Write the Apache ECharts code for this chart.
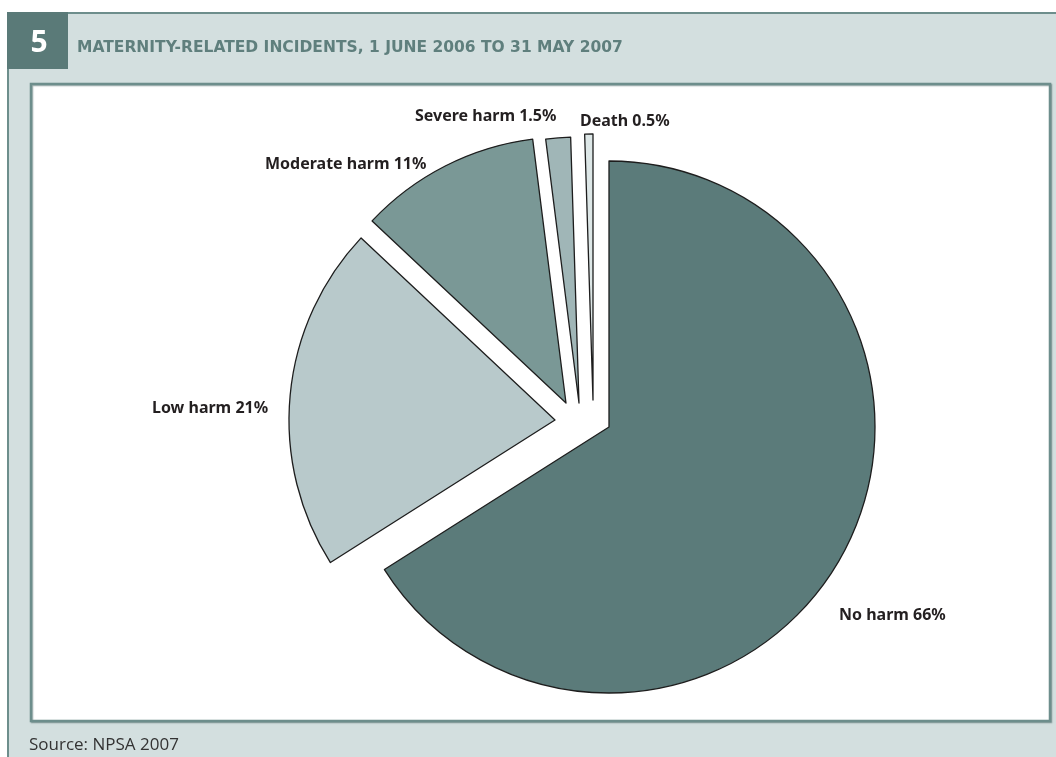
<!DOCTYPE html>
<html>
<head>
<meta charset="utf-8">
<title>Maternity-related incidents</title>
<script src="https://cdn.jsdelivr.net/npm/echarts@6/dist/echarts.min.js"></script>
<style>
  html, body { margin: 0; padding: 0; background: #ffffff; }
  #chart { width: 1056px; height: 757px; }
</style>
</head>
<body>
<div id="chart"></div>
<script>
// Incident outcomes, share of reported maternity incidents (%)
const categories = ['No harm', 'Low harm', 'Moderate harm', 'Severe harm', 'Death'];
const shares = [66, 21, 11, 1.5, 0.5];
const sliceColors = ['#5b7b7a', '#b8c9cb', '#7a9896', '#a0b6b7', '#dde7e7'];

const figureNumber = '5';
const titleText = 'MATERNITY-RELATED INCIDENTS, 1 JUNE 2006 TO 31 MAY 2007';
const sourceText = 'Source: NPSA 2007';

// Each slice is drawn by its own pie series so that it can be pulled
// away from the middle by its own amount; [cx, cy] per slice.
const sliceCentres = [[609, 427], [555, 420], [566, 403], [579, 403], [593, 400]];
// Label anchor (left edge, vertical middle) per slice.
const labelAnchors = [[839, 615], [152, 408], [265, 164], [415, 116], [580, 121]];
const pieRadius = 266;

const labelFont = '"Noto Sans", "DejaVu Sans", sans-serif';

function sliceSeries(k) {
  return {
    type: 'pie',
    center: sliceCentres[k],
    radius: pieRadius,
    startAngle: 90,
    clockwise: true,
    animation: false,
    silent: true,
    avoidLabelOverlap: false,
    emphasis: { disabled: true },
    z: 5,
    data: categories.map((name, i) => {
      const own = i === k;
      return {
        name: name,
        value: shares[i],
        itemStyle: own
          ? { color: sliceColors[i], borderColor: '#1d1d1d', borderWidth: 1.3 }
          : { color: 'rgba(0,0,0,0)', borderWidth: 0 },
        label: { show: own },
        labelLine: { show: false }
      };
    }),
    label: {
      position: 'outside',
      formatter: '{b} {c}%',
      color: '#231f20',
      fontFamily: labelFont,
      fontWeight: 'bold',
      fontSize: 16
    },
    labelLayout: function () {
      return {
        x: labelAnchors[k][0],
        y: labelAnchors[k][1],
        align: 'left',
        verticalAlign: 'middle'
      };
    }
  };
}

const chart = echarts.init(document.getElementById('chart'), null, { renderer: 'canvas' });

chart.setOption({
  backgroundColor: '#ffffff',
  animation: false,
  graphic: [
    // grey-green panel with rule on top and left
    { type: 'rect', z: 0, shape: { x: 8, y: 13, width: 1060, height: 760 },
      style: { fill: '#d3dfdf', stroke: '#6d8e8c', lineWidth: 2 } },
    // figure number box
    { type: 'rect', z: 1, shape: { x: 7, y: 12, width: 61, height: 57 },
      style: { fill: '#5a7a78' } },
    { type: 'text', z: 2, x: 39, y: 43,
      style: { text: figureNumber, fill: '#ffffff', font: 'bold 30px "Noto Sans", sans-serif',
        textAlign: 'center', textVerticalAlign: 'middle' } },
    { type: 'text', z: 2, x: 77, y: 48,
      style: { text: titleText, fill: '#5f7f7d', font: 'bold 15.5px "DejaVu Sans", sans-serif',
        textAlign: 'left', textVerticalAlign: 'middle' } },
    // white plot box
    { type: 'rect', z: 1, shape: { x: 31, y: 84, width: 1019, height: 637 },
      style: { fill: '#ffffff', stroke: '#6d8e8c', lineWidth: 2.5,
        shadowColor: 'rgba(60,90,88,0.45)', shadowOffsetX: 1, shadowOffsetY: 1, shadowBlur: 1 } },
    { type: 'text', z: 2, x: 29, y: 745,
      style: { text: sourceText, fill: '#333333', font: '17px "Open Sans", "Noto Sans", sans-serif',
        textAlign: 'left', textVerticalAlign: 'middle' } }
  ],
  series: categories.map((_, k) => sliceSeries(k))
});
</script>
</body>
</html>
